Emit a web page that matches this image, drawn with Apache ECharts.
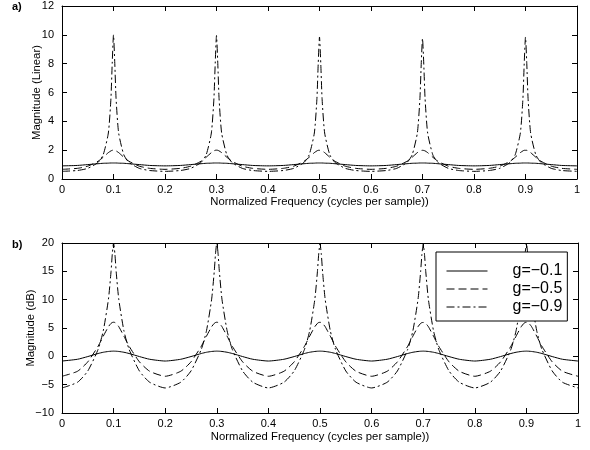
<!DOCTYPE html>
<html>
<head>
<meta charset="utf-8">
<script src="https://cdn.jsdelivr.net/npm/echarts@6/dist/echarts.min.js"></script>
<style>
  html, body { margin: 0; padding: 0; background: #fff; }
  #chart { width: 590px; height: 450px; }
</style>
</head>
<body>
<div id="chart"></div>
<script>
// frequency samples (cycles per sample), denser near the peaks
const freq = [
  0, 0.03, 0.05, 0.07, 0.08, 0.09, 0.095, 0.0975, 0.1, 0.1025, 0.105, 0.11, 0.12, 0.13, 0.15, 0.17,
  0.2, 0.23, 0.25, 0.27, 0.28, 0.29, 0.295, 0.2975, 0.3, 0.3025, 0.305, 0.31, 0.32, 0.33, 0.35, 0.37,
  0.4, 0.43, 0.45, 0.47, 0.48, 0.49, 0.495, 0.4975, 0.5, 0.5025, 0.505, 0.51, 0.52, 0.53, 0.55, 0.57,
  0.6, 0.63, 0.65, 0.67, 0.68, 0.69, 0.695, 0.6975, 0.7, 0.7025, 0.705, 0.71, 0.72, 0.73, 0.75, 0.77,
  0.8, 0.83, 0.85, 0.87, 0.88, 0.89, 0.895, 0.8975, 0.9, 0.9025, 0.905, 0.91, 0.92, 0.93, 0.95, 0.97,
  1.0
]

// a) linear magnitude
const lin01 = [
  0.91, 0.94, 1.00, 1.06, 1.09, 1.10, 1.11, 1.11, 1.11, 1.11, 1.11, 1.10, 1.09, 1.06, 1.00, 0.94,
  0.91, 0.94, 1.00, 1.06, 1.09, 1.10, 1.11, 1.11, 1.11, 1.11, 1.11, 1.10, 1.09, 1.06, 1.00, 0.94,
  0.91, 0.94, 1.00, 1.06, 1.09, 1.10, 1.11, 1.11, 1.11, 1.11, 1.11, 1.10, 1.09, 1.06, 1.00, 0.94,
  0.91, 0.94, 1.00, 1.06, 1.09, 1.10, 1.11, 1.11, 1.11, 1.11, 1.11, 1.10, 1.09, 1.06, 1.00, 0.94,
  0.91, 0.94, 1.00, 1.06, 1.09, 1.10, 1.11, 1.11, 1.11, 1.11, 1.11, 1.10, 1.09, 1.06, 1.00, 0.94,
  0.91
]
const lin05 = [
  0.67, 0.74, 0.89, 1.23, 1.51, 1.83, 1.95, 1.99, 2.00, 1.99, 1.95, 1.83, 1.51, 1.23, 0.89, 0.74,
  0.67, 0.74, 0.89, 1.23, 1.51, 1.83, 1.95, 1.99, 2.00, 1.99, 1.95, 1.83, 1.51, 1.23, 0.89, 0.74,
  0.67, 0.74, 0.89, 1.23, 1.51, 1.83, 1.95, 1.99, 1.99, 1.99, 1.95, 1.83, 1.51, 1.23, 0.89, 0.74,
  0.67, 0.74, 0.89, 1.23, 1.51, 1.83, 1.95, 1.98, 1.99, 1.98, 1.95, 1.83, 1.51, 1.23, 0.89, 0.74,
  0.67, 0.74, 0.89, 1.23, 1.51, 1.83, 1.95, 1.99, 1.99, 1.99, 1.95, 1.83, 1.51, 1.23, 0.89, 0.74,
  0.67
]
const lin09 = [
  0.53, 0.59, 0.74, 1.15, 1.68, 3.19, 5.58, 8.02, 10.0, 8.02, 5.58, 3.19, 1.68, 1.15, 0.74, 0.59,
  0.53, 0.59, 0.74, 1.15, 1.68, 3.19, 5.58, 8.02, 9.95, 8.02, 5.58, 3.19, 1.68, 1.15, 0.74, 0.59,
  0.53, 0.59, 0.74, 1.15, 1.68, 3.19, 5.58, 8.00, 9.85, 8.00, 5.58, 3.19, 1.68, 1.15, 0.74, 0.59,
  0.53, 0.59, 0.74, 1.15, 1.68, 3.19, 5.58, 7.95, 9.75, 7.95, 5.58, 3.19, 1.68, 1.15, 0.74, 0.59,
  0.53, 0.59, 0.74, 1.15, 1.68, 3.19, 5.58, 8.00, 9.85, 8.00, 5.58, 3.19, 1.68, 1.15, 0.74, 0.59,
  0.53
]

// b) magnitude in dB
const db01 = [
  -0.83, -0.52, -0.04, 0.50, 0.72, 0.86, 0.90, 0.91, 0.92, 0.91, 0.90, 0.86, 0.72, 0.50, -0.04, -0.52,
  -0.83, -0.52, -0.04, 0.50, 0.72, 0.86, 0.90, 0.91, 0.92, 0.91, 0.90, 0.86, 0.72, 0.50, -0.04, -0.52,
  -0.83, -0.52, -0.04, 0.50, 0.72, 0.86, 0.90, 0.91, 0.92, 0.91, 0.90, 0.86, 0.72, 0.50, -0.04, -0.52,
  -0.83, -0.52, -0.04, 0.50, 0.72, 0.86, 0.90, 0.91, 0.92, 0.91, 0.90, 0.86, 0.72, 0.50, -0.04, -0.52,
  -0.83, -0.52, -0.04, 0.50, 0.72, 0.86, 0.90, 0.91, 0.92, 0.91, 0.90, 0.86, 0.72, 0.50, -0.04, -0.52,
  -0.83
]
const db05 = [
  -3.52, -2.64, -0.97, 1.79, 3.56, 5.24, 5.81, 5.97, 6.02, 5.97, 5.81, 5.24, 3.56, 1.79, -0.97, -2.64,
  -3.52, -2.64, -0.97, 1.79, 3.56, 5.24, 5.81, 5.97, 6.02, 5.97, 5.81, 5.24, 3.56, 1.79, -0.97, -2.64,
  -3.52, -2.64, -0.97, 1.79, 3.56, 5.24, 5.81, 5.97, 6.00, 5.97, 5.81, 5.24, 3.56, 1.79, -0.97, -2.64,
  -3.52, -2.64, -0.97, 1.79, 3.56, 5.24, 5.81, 5.95, 5.98, 5.95, 5.81, 5.24, 3.56, 1.79, -0.97, -2.64,
  -3.52, -2.64, -0.97, 1.79, 3.56, 5.24, 5.81, 5.97, 6.00, 5.97, 5.81, 5.24, 3.56, 1.79, -0.97, -2.64,
  -3.52
]
const db09 = [
  -5.58, -4.58, -2.58, 1.24, 4.51, 10.08, 14.93, 18.09, 20.0, 18.09, 14.93, 10.08, 4.51, 1.24, -2.58, -4.58,
  -5.58, -4.58, -2.58, 1.24, 4.51, 10.08, 14.93, 18.09, 20.0, 18.09, 14.93, 10.08, 4.51, 1.24, -2.58, -4.58,
  -5.58, -4.58, -2.58, 1.24, 4.51, 10.08, 14.93, 18.05, 19.9, 18.05, 14.93, 10.08, 4.51, 1.24, -2.58, -4.58,
  -5.58, -4.58, -2.58, 1.24, 4.51, 10.08, 14.93, 18.0, 19.8, 18.0, 14.93, 10.08, 4.51, 1.24, -2.58, -4.58,
  -5.58, -4.58, -2.58, 1.24, 4.51, 10.08, 14.93, 18.05, 20.0, 18.05, 14.93, 10.08, 4.51, 1.24, -2.58, -4.58,
  -5.58
]

const names = ['g=\u22120.1', 'g=\u22120.5', 'g=\u22120.9']
const freqTicks = { min: 0, max: 1, interval: 0.1 }
const linTicks = { min: 0, max: 12, interval: 2 }
const dbTicks = { min: -10, max: 20, interval: 5 }

const font = 'Liberation Sans, Arial, Helvetica, sans-serif'
const dashes = ['solid', [8, 4], [8, 3, 2, 3]]

function pairs(ys) {
  return freq.map((f, i) => [f, ys[i]])
}

function bottomAxis(grid, gap) {
  return {
    type: 'value', gridIndex: grid, position: 'bottom',
    min: freqTicks.min, max: freqTicks.max, interval: freqTicks.interval,
    name: 'Normalized Frequency (cycles per sample))',
    nameLocation: 'middle', nameGap: gap, nameMoveOverlap: false,
    nameTextStyle: { color: '#000', fontFamily: font, fontSize: 11.3 },
    axisLine: { onZero: false, lineStyle: { color: '#000', width: 1 } },
    axisTick: { inside: true, length: 5, lineStyle: { color: '#000' } },
    axisLabel: { color: '#000', fontFamily: font, fontSize: 11, margin: 5 },
    splitLine: { show: false }
  }
}
function topAxis(grid) {
  return {
    type: 'value', gridIndex: grid, position: 'top',
    min: freqTicks.min, max: freqTicks.max, interval: freqTicks.interval,
    axisLine: { onZero: false, lineStyle: { color: '#000', width: 1 } },
    axisTick: { inside: true, length: 5, lineStyle: { color: '#000' } },
    axisLabel: { show: false },
    splitLine: { show: false }
  }
}
function leftAxis(grid, t, name, gap) {
  return {
    type: 'value', gridIndex: grid, position: 'left',
    min: t.min, max: t.max, interval: t.interval,
    name: name, nameLocation: 'middle', nameGap: gap, nameMoveOverlap: false,
    nameTextStyle: { color: '#000', fontFamily: font, fontSize: 11.3 },
    axisLine: { show: true, onZero: false, lineStyle: { color: '#000', width: 1 } },
    axisTick: { show: true, inside: true, length: 5, lineStyle: { color: '#000' } },
    axisLabel: {
      color: '#000', fontFamily: font, fontSize: 11, margin: 8,
      formatter: v => String(v).replace('-', '\u2212')
    },
    splitLine: { show: false }
  }
}
function rightAxis(grid, t) {
  return {
    type: 'value', gridIndex: grid, position: 'right',
    min: t.min, max: t.max, interval: t.interval,
    axisLine: { show: true, onZero: false, lineStyle: { color: '#000', width: 1 } },
    axisTick: { show: true, inside: true, length: 5, lineStyle: { color: '#000' } },
    axisLabel: { show: false },
    splitLine: { show: false }
  }
}

function line(name, ys, k, xi, yi) {
  return {
    name: name, type: 'line', xAxisIndex: xi, yAxisIndex: yi,
    data: pairs(ys), showSymbol: false, symbol: 'none', smooth: 0.2,
    animation: false, clip: true,
    lineStyle: { color: '#000', width: 1, type: dashes[k] },
    itemStyle: { color: '#000' }
  }
}

const chart = echarts.init(document.getElementById('chart'))
chart.setOption({
  backgroundColor: '#fff',
  animation: false,
  grid: [
    { left: 62, right: 13, top: 6, height: 173 },
    { left: 62, right: 12, top: 243, height: 170 }
  ],
  xAxis: [bottomAxis(0, 17), topAxis(0), bottomAxis(1, 18), topAxis(1)],
  yAxis: [
    leftAxis(0, linTicks, 'Magnitude (Linear)', 20), rightAxis(0, linTicks),
    leftAxis(1, dbTicks, 'Magnitude (dB)', 26), rightAxis(1, dbTicks)
  ],
  legend: {
    data: names,
    orient: 'vertical',
    left: 436, top: 252,
    padding: [11, 5, 6, 10],
    itemGap: 2, itemWidth: 41, itemHeight: 16,
    backgroundColor: '#fff',
    borderColor: '#000', borderWidth: 1, borderRadius: 0,
    itemStyle: { opacity: 0 },
    lineStyle: { width: 1 },
    textStyle: { color: '#000', fontFamily: font, fontSize: 16, padding: [0, 0, 0, 20] },
    selectedMode: false
  },
  graphic: [
    { type: 'text', left: 12, top: 1, style: { text: 'a)', font: 'bold 11px ' + font, fill: '#000' } },
    { type: 'text', left: 12, top: 239, style: { text: 'b)', font: 'bold 11px ' + font, fill: '#000' } }
  ],
  series: [
    line(names[0], lin01, 0, 0, 0),
    line(names[1], lin05, 1, 0, 0),
    line(names[2], lin09, 2, 0, 0),
    line(names[0], db01, 0, 2, 2),
    line(names[1], db05, 1, 2, 2),
    line(names[2], db09, 2, 2, 2)
  ]
})
</script>
</body>
</html>
